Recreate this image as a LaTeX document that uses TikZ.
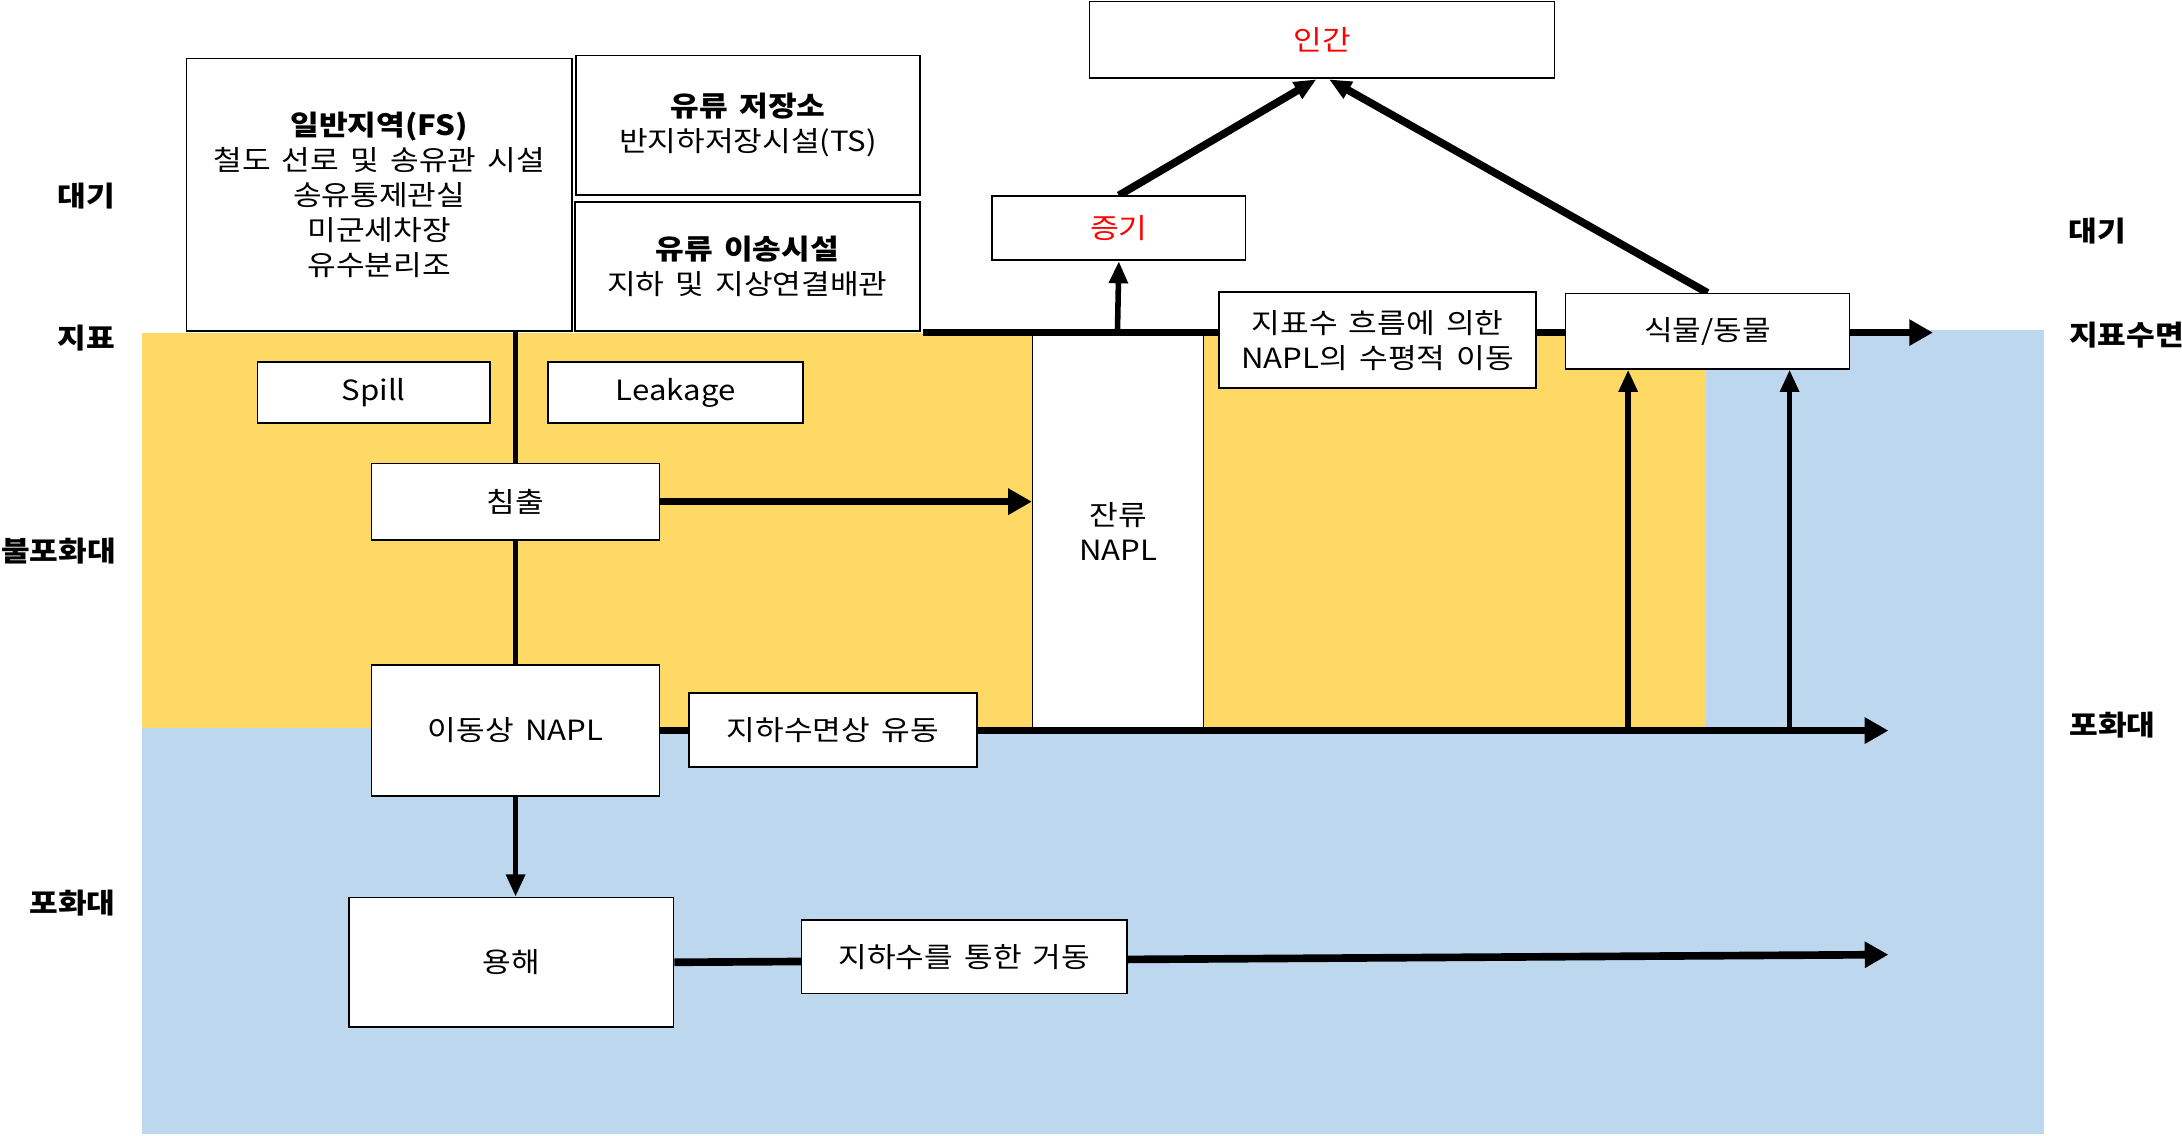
\documentclass[tikz,border=0pt]{standalone}
\usepackage{fontspec}
\setmainfont{Noto Sans CJK KR}[FakeStretch=1.12, WordSpace=1.6]
\usetikzlibrary{arrows.meta}
\definecolor{yel}{HTML}{FFD966}
\definecolor{blu}{HTML}{BDD7EE}
\definecolor{redtxt}{HTML}{FF0000}
\pgfdeclarelayer{back}
\pgfdeclarelayer{lines}
\pgfsetlayers{back,lines,main}
\begin{document}
\begin{tikzpicture}[x=1pt,y=-1pt,
  every node/.style={font=\fontsize{20}{25}\selectfont},
  box/.style={draw, line width=1.2pt, fill=white, inner sep=0pt, align=center},
  lbl/.style={font=\fontsize{20}{25}\selectfont\bfseries, inner sep=0pt},
  flow/.style={line width=5.5pt},
  thinflow/.style={line width=4pt},
  bigtip/.style={-{Triangle[length=17pt,width=18pt]}},
  midtip/.style={-{Triangle[length=16pt,width=13pt]}},
  redt/.style={text=redtxt}
]
\useasboundingbox (0,0) rectangle (1568,816);

\begin{pgfonlayer}{back}
\fill[yel] (102,239) rectangle (1226,523);
\fill[blu] (102,523) rectangle (1469,815);
\fill[blu] (1226,237) rectangle (1469,523);
\node[box, line width=1pt, minimum width=123pt, minimum height=286pt] (resid) at (803.5,382) {잔류\\NAPL};
\end{pgfonlayer}

% side labels
\node[lbl] (l1) at (62,141) {대기};
\node[lbl] (l2) at (62,243) {지표};
\node[lbl] (l3) at (42,396) {불포화대};
\node[lbl] (l4) at (52,649) {포화대};
\node[lbl] (r1) at (1507,166) {대기};
\node[lbl] (r2) at (1528,241) {지표수면};
\node[lbl] (r3) at (1518,521) {포화대};

% boxes
\node[box, minimum width=277pt, minimum height=196pt] (fs) at (272.5,140)
  {\textbf{일반지역(FS)}\\철도 선로 및 송유관 시설\\송유통제관실\\미군세차장\\유수분리조};
\node[box, minimum width=247pt, minimum height=100pt] (ts) at (537.5,90)
  {\textbf{유류 저장소}\\반지하저장시설(TS)};
\node[box, minimum width=248pt, minimum height=93pt] (tr) at (537,191.5)
  {\textbf{유류 이송시설}\\지하 및 지상연결배관};
\node[box, redt, minimum width=334pt, minimum height=55pt] (human) at (950,28.5) {인간};
\node[box, redt, minimum width=182pt, minimum height=46pt] (vapor) at (804,164) {증기};
\node[box, minimum width=228pt, minimum height=69pt] (sfw) at (990,244.5)
  {지표수 흐름에 의한\\NAPL의 수평적 이동};
\node[box, minimum width=204pt, minimum height=54pt] (plant) at (1227,238) {식물/동물};
\node[box, minimum width=167pt, minimum height=44pt] (spill) at (268.5,282) {Spill};
\node[box, minimum width=183pt, minimum height=44pt] (leak) at (485.5,282) {Leakage};
\node[box, minimum width=207pt, minimum height=55pt] (leach) at (370.5,360.5) {침출};
\node[box, minimum width=207pt, minimum height=94pt] (mobile) at (370.5,525) {이동상 NAPL};
\node[box, minimum width=207pt, minimum height=53pt] (gwflow) at (598.5,524.5) {지하수면상 유동};
\node[box, minimum width=233pt, minimum height=93pt] (diss) at (367.5,691.5) {용해};
\node[box, minimum width=234pt, minimum height=53pt] (gwtr) at (693,687.5) {지하수를 통한 거동};

% coordinates for free ends
\coordinate (s0) at (663,239);
\coordinate (s1) at (1389,239);
\coordinate (sv) at (803,239);
\coordinate (g1) at (1357,525);
\coordinate (ua) at (1170,525);
\coordinate (ub) at (1286,525);
\coordinate (d1) at (1357,686);
\coordinate (hl) at (946,57);
\coordinate (hr) at (955,57);

\begin{pgfonlayer}{lines}
\draw[thinflow] (leach.north |- fs.south) -- (leach.north);
\draw[thinflow] (leach.south) -- (mobile.north);
\draw[thinflow, midtip] (mobile.south) -- (mobile.south |- diss.north);
\draw[flow, bigtip] (leach.east) -- (resid.west |- leach.east);
\draw[flow, bigtip] (s0) -- (s1);
\draw[thinflow, midtip] (sv) -- (vapor.south);
\draw[flow, midtip] (vapor.north) -- (hl);
\draw[flow, midtip] (plant.north) -- (hr);
\draw[flow, bigtip] (mobile.east) -- (g1);
\draw[thinflow, midtip] (ua) -- (ua |- plant.south);
\draw[thinflow, midtip] (ub) -- (ub |- plant.south);
\draw[flow, bigtip] (diss.east) -- (d1);
\end{pgfonlayer}
\end{tikzpicture}
\end{document}
